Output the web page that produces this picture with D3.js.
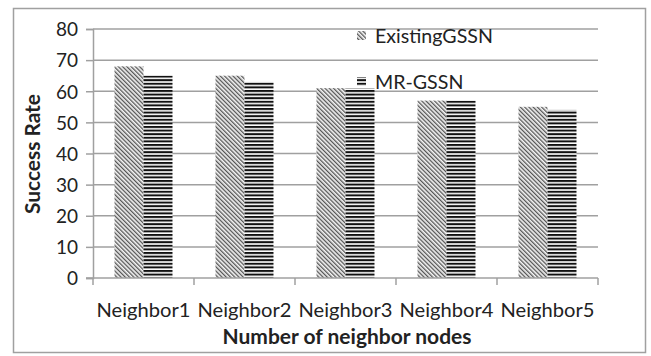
<!DOCTYPE html>
<html>
<head>
<meta charset="utf-8">
<script src="https://cdn.jsdelivr.net/npm/d3@7"></script>
<style>
  html, body { margin: 0; padding: 0; background: #fff; }
  svg { display: block; }
  text { font-family: Lato, "Open Sans", sans-serif; fill: #222; }
</style>
</head>
<body>
<svg id="chart" width="651" height="356"></svg>
<script>
// Success rate per neighbour configuration
const categories = ["Neighbor1", "Neighbor2", "Neighbor3", "Neighbor4", "Neighbor5"];
const seriesNames = ["ExistingGSSN", "MR-GSSN"];
const existingGSSN = [68, 65, 61, 57, 55];
const mrGSSN = [65, 63, 61, 57, 54];
const yTicks = [0, 10, 20, 30, 40, 50, 60, 70, 80];

const seriesValues = [existingGSSN, mrGSSN];
const rows = categories.map((c, i) => ({
  category: c,
  values: seriesNames.map((s, k) => ({ series: s, value: seriesValues[k][i] }))
}));

const svg = d3.select("#chart");
const plot = { left: 93, right: 598, top: 29, bottom: 278 };

// Scale a text element's font size so its rendered width equals `width`
function fitWidth(sel, width) {
  sel.each(function () {
    const base = parseFloat(this.getAttribute("font-size"));
    const len = this.getComputedTextLength();
    if (len > 0) this.setAttribute("font-size", (base * width / len).toFixed(2));
  });
}

// Patterns: diagonal hatch and horizontal stripes
const defs = svg.append("defs");
const hatch = defs.append("pattern")
  .attr("id", "hatch").attr("patternUnits", "userSpaceOnUse")
  .attr("width", 3).attr("height", 3)
  .attr("patternTransform", "rotate(-45)");
hatch.append("rect").attr("width", 3).attr("height", 3).attr("fill", "#f4f4f4");
hatch.append("rect").attr("width", 1.3).attr("height", 3).attr("fill", "#555");

const stripes = defs.append("pattern")
  .attr("id", "stripes").attr("patternUnits", "userSpaceOnUse")
  .attr("width", 4).attr("height", 3.6);
stripes.append("rect").attr("width", 4).attr("height", 3.6).attr("fill", "#fff");
stripes.append("rect").attr("width", 4).attr("height", 2).attr("fill", "#111");

const fills = { "ExistingGSSN": "url(#hatch)", "MR-GSSN": "url(#stripes)" };

// Outer frame
svg.append("rect")
  .attr("x", 13.5).attr("y", 8.5).attr("width", 632).attr("height", 344)
  .attr("fill", "#fff").attr("stroke", "#a0a0a0").attr("stroke-width", 1.5);

// Scales
const x = d3.scaleBand()
  .domain(categories)
  .range([plot.left, plot.right])
  .paddingInner(0.426)
  .paddingOuter(0.213);
const xInner = d3.scaleBand().domain(seriesNames).range([0, x.bandwidth()]);
const y = d3.scaleLinear().domain([0, 80]).range([plot.bottom, plot.top]);

// Gridlines
svg.append("g")
  .selectAll("line")
  .data(yTicks.filter(t => t > 0))
  .join("line")
  .attr("x1", plot.left).attr("x2", plot.right)
  .attr("y1", d => y(d)).attr("y2", d => y(d))
  .attr("stroke", "#a0a0a0").attr("stroke-width", 1.5);

// Y axis
const yAxis = svg.append("g")
  .attr("transform", `translate(${plot.left},0)`)
  .call(d3.axisLeft(y).tickValues(yTicks).tickSize(7).tickPadding(8).tickFormat(d3.format("d")));
yAxis.select(".domain").attr("stroke", "#a0a0a0").attr("stroke-width", 1.5);
yAxis.selectAll(".tick line").attr("stroke", "#a0a0a0").attr("stroke-width", 1.5);
yAxis.selectAll(".tick text")
  .attr("font-size", 19).attr("fill", "#222")
  .attr("font-family", "Lato, sans-serif")
  .attr("dy", "0.36em");

// Bars
svg.append("g")
  .selectAll("g")
  .data(rows)
  .join("g")
  .attr("transform", d => `translate(${x(d.category)},0)`)
  .selectAll("rect")
  .data(d => d.values)
  .join("rect")
  .attr("x", d => xInner(d.series))
  .attr("width", xInner.bandwidth())
  .attr("y", d => y(d.value))
  .attr("height", d => y(0) - y(d.value))
  .attr("fill", d => fills[d.series]);

// X axis with ticks at category boundaries
const step = x.step();
const boundaries = categories.map(c => x(c) - step * x.paddingInner() / 2)
  .concat([x(categories[categories.length - 1]) + x.bandwidth() + step * x.paddingInner() / 2]);
const xAxis = svg.append("g");
xAxis.append("line")
  .attr("x1", plot.left - 7).attr("x2", plot.right)
  .attr("y1", y(0)).attr("y2", y(0))
  .attr("stroke", "#a0a0a0").attr("stroke-width", 1.5);
xAxis.selectAll("line.tk")
  .data(boundaries)
  .join("line").attr("class", "tk")
  .attr("x1", d => d).attr("x2", d => d)
  .attr("y1", y(0)).attr("y2", y(0) + 7)
  .attr("stroke", "#a0a0a0").attr("stroke-width", 1.5);
const catLabels = xAxis.selectAll("text")
  .data(categories)
  .join("text")
  .attr("x", d => x(d) + x.bandwidth() / 2)
  .attr("y", 317)
  .attr("text-anchor", "middle")
  .attr("font-size", 20)
  .text(d => d);
fitWidth(catLabels, 94);

// Axis titles
const xTitle = svg.append("text")
  .attr("x", 347)
  .attr("y", 344)
  .attr("text-anchor", "middle")
  .attr("font-size", 20).attr("font-weight", "bold")
  .text("Number of neighbor nodes");
fitWidth(xTitle, 249);
const yTitle = svg.append("text")
  .attr("transform", `translate(40,154) rotate(-90)`)
  .attr("text-anchor", "middle")
  .attr("font-size", 18).attr("font-weight", "bold")
  .text("Success Rate");
fitWidth(yTitle, 120);

// Legend
const legend = svg.append("g");
const legendY = [36, 82];
seriesNames.forEach((s, i) => {
  legend.append("rect")
    .attr("x", 357).attr("y", legendY[i] - 5)
    .attr("width", 9).attr("height", 9)
    .attr("fill", fills[s]);
  const t = legend.append("text")
    .attr("x", 375).attr("y", legendY[i])
    .attr("dy", "0.36em")
    .attr("font-size", 19)
    .text(s);
  if (i === 0) fitWidth(t, 118);
  else t.attr("font-size", legend.select("text").attr("font-size"));
});
</script>
</body>
</html>
